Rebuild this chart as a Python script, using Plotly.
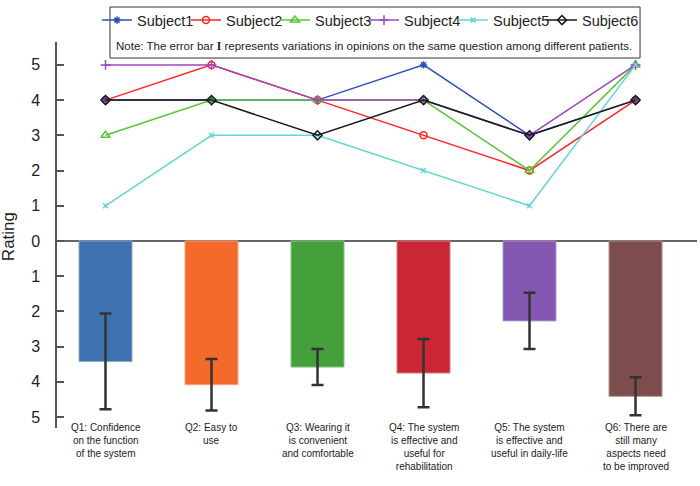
import plotly.graph_objects as go

questions = ["Q1", "Q2", "Q3", "Q4", "Q5", "Q6"]
question_labels = [
    "Q1: Confidence<br>on the function<br>of the system",
    "Q2: Easy to<br>use",
    "Q3: Wearing it<br>is convenient<br>and comfortable",
    "Q4: The system<br>is effective and<br>useful for<br>rehabilitation",
    "Q5: The system<br>is effective and<br>useful in daily-life",
    "Q6: There are<br>still many<br>aspects need<br>to be improved",
]

subject_names = ["Subject1", "Subject2", "Subject3", "Subject4", "Subject5", "Subject6"]
subject1 = [4, 4, 4, 5, 3, 4]
subject2 = [4, 5, 4, 3, 2, 4]
subject3 = [3, 4, 4, 4, 2, 5]
subject4 = [5, 5, 4, 4, 3, 5]
subject5 = [1, 3, 3, 2, 1, 5]
subject6 = [4, 4, 3, 4, 3, 4]
subjects = [subject1, subject2, subject3, subject4, subject5, subject6]

mean_rating = [3.42, 4.08, 3.58, 3.75, 2.27, 4.41]
rating_err = [1.36, 0.73, 0.51, 0.97, 0.80, 0.54]

y_ticks = [-5, -4, -3, -2, -1, 0, 1, 2, 3, 4, 5]
y_ticktext = [str(abs(v)) for v in y_ticks]

bar_colors = ["#3d71b0", "#f46a2a", "#43a03b", "#c92733", "#8458b1", "#7d4c4c"]
bar_edges = ["#8aa6cc", "#f7a07a", "#8cc585", "#dc7a80", "#b096cf", "#b09090"]
line_colors = ["#2c4fb8", "#ff2424", "#5cc43a", "#a244c2", "#66d3da", "#1b1b1b"]
line_symbols = ["asterisk-open", "circle-open", "triangle-up-open", "cross-thin-open", "x-thin-open", "diamond-open"]
marker_sizes = [6, 7, 8, 7, 5, 7]

xs = list(range(len(questions)))

fig = go.Figure()

fig.add_trace(go.Bar(
    x=xs, y=[-v for v in mean_rating], width=0.5,
    marker=dict(color=bar_colors, line=dict(color=bar_edges, width=1)),
    error_y=dict(type="data", array=rating_err, symmetric=True,
                 color="#333333", thickness=2.5, width=6),
    showlegend=False, hoverinfo="skip",
))

for name, vals, col, sym, ms in zip(subject_names, subjects, line_colors, line_symbols, marker_sizes):
    fig.add_trace(go.Scatter(
        x=xs, y=vals, mode="lines+markers", name=name,
        line=dict(color=col, width=1.5),
        marker=dict(symbol=sym, size=ms, color=col, line=dict(color=col, width=1.5)),
    ))

# invisible spacer entry so the last legend label is not clipped
fig.add_trace(go.Scatter(x=[None], y=[None], mode="lines", name=" ",
                         line=dict(color="rgba(0,0,0,0)", width=0), hoverinfo="skip"))

for i, lab in enumerate(question_labels):
    fig.add_annotation(x=xs[i], y=0, xref="x", yref="paper", yanchor="top", yshift=8,
                       text=lab, showarrow=False, align="center",
                       font=dict(family="Liberation Sans, Arial", size=10, color="#222"))

fig.add_annotation(x=-0.0766, y=0.497, xref="paper", yref="paper", text="Rating",
                   textangle=-90, showarrow=False, xanchor="center", yanchor="middle",
                   font=dict(family="Liberation Sans, Arial", size=17, color="#222"))

fig.add_annotation(x=0.4955, y=0.9896, xref="paper", yref="paper",
                   text="Note: The error bar <span style=\"font-family:'Liberation Serif'\"><b>I</b></span> represents variations in opinions on the same question among different patients.",
                   showarrow=False, xanchor="center", yanchor="middle",
                   font=dict(family="Liberation Sans, Arial", size=11.5, color="#222"))

fig.add_shape(type="rect", xref="paper", yref="paper",
              x0=0.0828, x1=0.911, y0=0.9585, y1=1.0907,
              line=dict(color="#333", width=1), fillcolor="rgba(0,0,0,0)")

fig.update_layout(
    width=700, height=486,
    margin=dict(l=57, r=3, t=42, b=58, autoexpand=False),
    paper_bgcolor="white", plot_bgcolor="white",
    font=dict(family="Liberation Sans, Arial", color="#222"),
    legend=dict(orientation="h", x=0.0625, y=1.098, xanchor="left", yanchor="top",
                font=dict(size=14.5), itemwidth=30, entrywidth=44,
                bgcolor="rgba(0,0,0,0)", borderwidth=0, tracegroupgap=0),
    xaxis=dict(range=[-0.4575, 5.58], showticklabels=False, showgrid=False,
               zeroline=False, showline=False, ticks=""),
    yaxis=dict(range=[-5.31, 5.65], tickvals=y_ticks, ticktext=y_ticktext,
               showgrid=False, zeroline=True, zerolinecolor="#666", zerolinewidth=1.5,
               showline=True, linecolor="#555", linewidth=1.5,
               ticks="inside", ticklen=7, tickwidth=1.5, tickcolor="#555",
               tickfont=dict(size=16, color="#222"), ticklabelstandoff=12),
)

fig.write_html("out.html", config={"displayModeBar": False},
               post_script="document.body.style.margin='0';document.body.style.padding='0';")
